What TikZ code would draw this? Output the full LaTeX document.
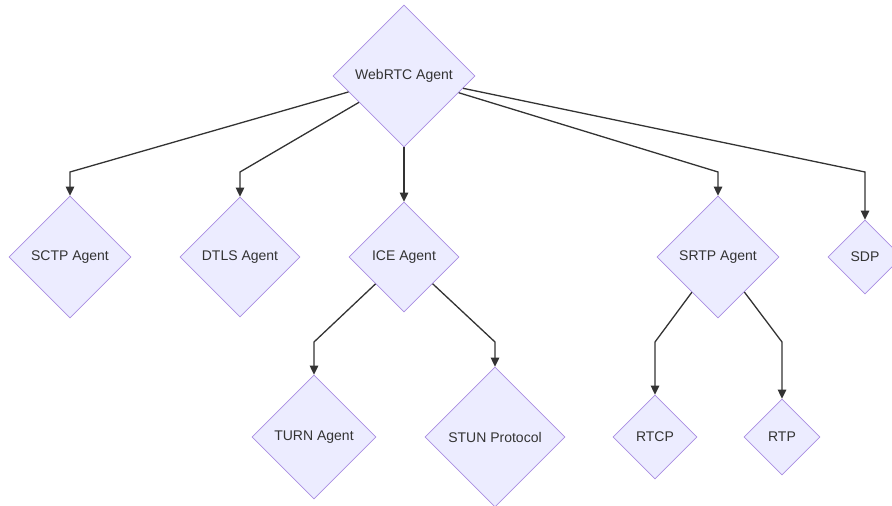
\documentclass[tikz,border=0pt]{standalone}
\usepackage{fontspec}
\setmainfont{Liberation Sans}
\usetikzlibrary{shapes.geometric,arrows.meta}
\definecolor{nodefill}{HTML}{ECECFF}
\definecolor{nodeline}{HTML}{9370DB}
\definecolor{edgecol}{HTML}{333333}
\tikzset{
  dia/.style={diamond, aspect=1, inner sep=0pt, fill=nodefill, draw=nodeline!80,
    line width=0.75pt, text=edgecol, font=\fontsize{14}{16}\selectfont},
  link/.style={draw=edgecol, line width=1.3pt,
    -{Triangle[length=9pt,width=8.5pt]}}
}
\begin{document}
\begin{tikzpicture}[x=1pt,y=-1pt]
\useasboundingbox (0,0) rectangle (892,506);
\node[dia, minimum size=142pt] (web) at (404,76) {WebRTC Agent};
\node[dia, minimum size=122pt] (sctp) at (70,257) {SCTP Agent};
\node[dia, minimum size=120pt] (dtls) at (240,257) {DTLS Agent};
\node[dia, minimum size=110pt] (ice) at (404,257) {ICE Agent};
\node[dia, minimum size=122pt] (srtp) at (718,257) {SRTP Agent};
\node[dia, minimum size=74pt] (sdp) at (865,257) {SDP};
\node[dia, minimum size=124pt] (turn) at (314,437) {TURN Agent};
\node[dia, minimum size=140pt] (stun) at (495,437) {STUN Protocol};
\node[dia, minimum size=84pt] (rtcp) at (655,437) {RTCP};
\node[dia, minimum size=76pt] (rtp) at (782,437) {RTP};
\coordinate (b1) at (70,172);
\coordinate (b2) at (240,172);
\coordinate (b3) at (718,172);
\coordinate (b4) at (865,172);
\coordinate (b5) at (314,342);
\coordinate (b6) at (495,342);
\coordinate (b7) at (655,342);
\coordinate (b8) at (782,342);
\draw[link] (web) -- (b1) -- (sctp);
\draw[link] (web) -- (b2) -- (dtls);
\draw[link] (web) -- (ice);
\draw[link] (web) -- (b3) -- (srtp);
\draw[link] (web) -- (b4) -- (sdp);
\draw[link] (ice) -- (b5) -- (turn);
\draw[link] (ice) -- (b6) -- (stun);
\draw[link] (srtp) -- (b7) -- (rtcp);
\draw[link] (srtp) -- (b8) -- (rtp);
\end{tikzpicture}
\end{document}
